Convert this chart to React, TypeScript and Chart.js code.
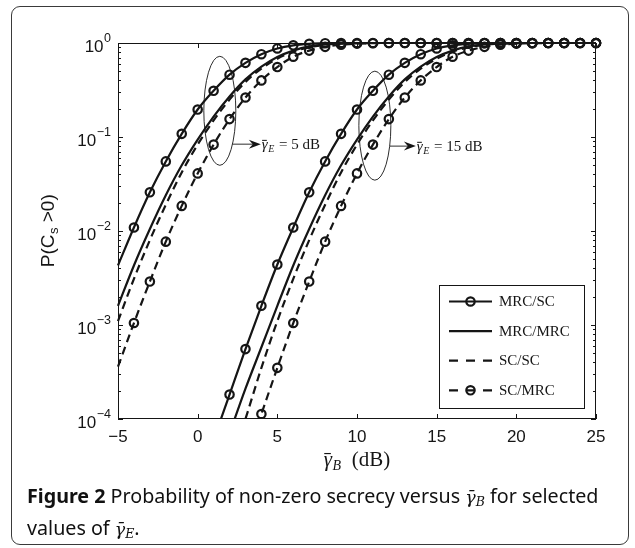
import React, { useEffect, useRef } from "react";
import { Chart, registerables } from "chart.js";

Chart.register(...registerables);

// ---------------- data ----------------
const X_DB = [-5, -4, -3, -2, -1, 0, 1, 2, 3, 4, 5, 6, 7, 8, 9, 10, 11, 12, 13, 14, 15, 16, 17, 18, 19, 20, 21, 22, 23, 24, 25];
const X_TICKS = [-5, 0, 5, 10, 15, 20, 25];
const Y_TICK_EXPONENTS = [0, -1, -2, -3, -4];
const LEGEND_LABELS = ["MRC/SC", "MRC/MRC", "SC/SC", "SC/MRC"];
const ANNOTATION_LABELS = ["5 dB", "15 dB"];

// gamma_E = 5 dB
const MRC_SC_5 = [0.0043, 0.0109, 0.0258, 0.055, 0.108, 0.196, 0.31, 0.46, 0.615, 0.76, 0.875, 0.945, 0.98, 0.995, 1, 1, 1, 1, 1, 1, 1, 1, 1, 1, 1, 1, 1, 1, 1, 1, 1];
const MRC_MRC_5 = [0.0016, 0.0043, 0.0105, 0.024, 0.05, 0.094, 0.165, 0.27, 0.41, 0.56, 0.71, 0.83, 0.92, 0.965, 0.988, 0.997, 1, 1, 1, 1, 1, 1, 1, 1, 1, 1, 1, 1, 1, 1, 1];
const SC_SC_5 = [0.0011, 0.0031, 0.008, 0.019, 0.042, 0.083, 0.15, 0.25, 0.385, 0.535, 0.68, 0.81, 0.9, 0.955, 0.985, 0.995, 1, 1, 1, 1, 1, 1, 1, 1, 1, 1, 1, 1, 1, 1, 1];
const SC_MRC_5 = [0.00036, 0.00105, 0.0029, 0.0077, 0.0185, 0.041, 0.083, 0.155, 0.263, 0.4, 0.555, 0.715, 0.83, 0.91, 0.96, 0.985, 0.995, 1, 1, 1, 1, 1, 1, 1, 1, 1, 1, 1, 1, 1, 1];

// gamma_E = 15 dB
const MRC_SC_15 = [null, null, null, null, null, null, 0.00006, 0.000182, 0.000554, 0.0016, 0.0044, 0.0109, 0.0258, 0.055, 0.108, 0.196, 0.31, 0.46, 0.615, 0.76, 0.875, 0.945, 0.98, 0.995, 1, 1, 1, 1, 1, 1, 1];
const MRC_MRC_15 = [null, null, null, null, null, null, null, 0.00007, 0.00021, 0.00058, 0.0016, 0.0043, 0.0105, 0.024, 0.05, 0.094, 0.165, 0.27, 0.41, 0.56, 0.71, 0.83, 0.92, 0.965, 0.988, 0.997, 1, 1, 1, 1, 1];
const SC_SC_15 = [null, null, null, null, null, null, null, 0.00003, 0.0001, 0.00035, 0.0011, 0.0031, 0.008, 0.019, 0.042, 0.083, 0.15, 0.25, 0.385, 0.535, 0.68, 0.81, 0.9, 0.955, 0.985, 0.995, 1, 1, 1, 1, 1];
const SC_MRC_15 = [null, null, null, null, null, null, null, null, 0.000035, 0.000113, 0.00035, 0.00105, 0.0029, 0.0077, 0.0185, 0.041, 0.083, 0.155, 0.263, 0.4, 0.555, 0.715, 0.83, 0.91, 0.96, 0.985, 0.995, 1, 1, 1, 1];

// ---------------- styling ----------------
const INK = "#151515";
const SANS = '"Liberation Sans", Arial, sans-serif';
const SERIF = '"Liberation Serif", "Times New Roman", serif';
const DASH = [8, 5];
const Y_MIN = 1e-4;
const Y_MAX = 1;

type Style = { dashed: boolean; markers: boolean };
const STYLES: Style[] = [
  { dashed: false, markers: true },
  { dashed: false, markers: false },
  { dashed: true, markers: false },
  { dashed: true, markers: true },
];

const GROUPS = [
  [MRC_SC_5, MRC_MRC_5, SC_SC_5, SC_MRC_5],
  [MRC_SC_15, MRC_MRC_15, SC_SC_15, SC_MRC_15],
];

function makeDataset(label: string, values: (number | null)[], style: Style) {
  return {
    label,
    data: X_DB.map((x, i) => ({ x, y: values[i] })),
    borderColor: INK,
    borderWidth: 2.2,
    borderDash: style.dashed ? DASH : [],
    pointStyle: "circle",
    pointRadius: (c: any) => {
      const r = c.raw;
      return style.markers && r && r.y != null && r.x > X_DB[0] && r.y >= Y_MIN ? 4.2 : 0;
    },
    pointBorderWidth: 2.2,
    pointBorderColor: INK,
    pointBackgroundColor: "rgba(0,0,0,0)",
    cubicInterpolationMode: "monotone",
    fill: false,
    spanGaps: false,
    clip: { left: 8, top: 8, right: 8, bottom: 0 },
  };
}

const datasets = GROUPS.flatMap((group, g) =>
  group.map((values, k) => makeDataset(`${LEGEND_LABELS[k]} (${ANNOTATION_LABELS[g]})`, values, STYLES[k]))
);

// annotation anchors in data coordinates
const ANNOTATIONS = [
  { x: 1.39, y: 0.19, arrowY: 0.0839 },
  { x: 11.12, y: 0.132, arrowY: 0.08 },
];

function drawGammaBar(ctx: CanvasRenderingContext2D, x: number, base: number, size: number, sub: string, subSize: number) {
  ctx.textAlign = "left";
  ctx.textBaseline = "alphabetic";
  ctx.font = `italic ${size}px ${SERIF}`;
  ctx.fillText("γ", x, base);
  const gw = ctx.measureText("γ").width;
  ctx.fillRect(x + gw * 0.05, base - size * 0.62, gw * 0.8, Math.max(1, size * 0.055));
  ctx.font = `italic ${subSize}px ${SERIF}`;
  ctx.fillText(sub, x + gw + 0.5, base + size * 0.2);
  return x + gw + 0.5 + ctx.measureText(sub).width;
}

const framePlugin = {
  id: "frame",
  afterDatasetsDraw(chart: any) {
    const { ctx, chartArea: a, scales } = chart;
    const xs = scales.x;
    const ys = scales.y;
    ctx.save();
    ctx.strokeStyle = INK;
    ctx.fillStyle = INK;
    ctx.lineWidth = 1;
    ctx.setLineDash([]);

    // box
    ctx.strokeRect(a.left + 0.5, a.top + 0.5, a.right - a.left - 1, a.bottom - a.top - 1);

    // x ticks (inward, bottom & top)
    ctx.beginPath();
    for (const t of X_TICKS) {
      const px = Math.round(xs.getPixelForValue(t)) + 0.5;
      ctx.moveTo(px, a.bottom);
      ctx.lineTo(px, a.bottom - 5);
      ctx.moveTo(px, a.top);
      ctx.lineTo(px, a.top + 5);
    }
    // y ticks (major + minor, left & right)
    for (const e of Y_TICK_EXPONENTS) {
      const py = Math.round(ys.getPixelForValue(Math.pow(10, e))) + 0.5;
      ctx.moveTo(a.left, py);
      ctx.lineTo(a.left + 5, py);
      ctx.moveTo(a.right, py);
      ctx.lineTo(a.right - 5, py);
      if (e < 0) {
        for (let m = 2; m <= 9; m++) {
          const pm = Math.round(ys.getPixelForValue(m * Math.pow(10, e))) + 0.5;
          ctx.moveTo(a.left, pm);
          ctx.lineTo(a.left + 3, pm);
          ctx.moveTo(a.right, pm);
          ctx.lineTo(a.right - 3, pm);
        }
      }
    }
    ctx.stroke();

    // annotations: ellipses + arrows + labels
    ANNOTATIONS.forEach((an, i) => {
      const cx = xs.getPixelForValue(an.x);
      const cy = ys.getPixelForValue(an.y);
      const ay = ys.getPixelForValue(an.arrowY);
      const rx = 16, ry = 54.5;
      ctx.lineWidth = 0.9;
      ctx.beginPath();
      ctx.ellipse(cx, cy, rx, ry, 0, 0, Math.PI * 2);
      ctx.stroke();
      const dy = (ay - cy) / ry;
      const x0 = cx + rx * Math.sqrt(Math.max(0, 1 - dy * dy));
      const tip = cx + 41;
      ctx.beginPath();
      ctx.moveTo(x0, ay);
      ctx.lineTo(tip - 6, ay);
      ctx.stroke();
      ctx.beginPath();
      ctx.moveTo(tip, ay);
      ctx.lineTo(tip - 12, ay - 4.5);
      ctx.lineTo(tip - 8, ay);
      ctx.lineTo(tip - 12, ay + 4.5);
      ctx.closePath();
      ctx.fill();
      const base = ay + 5;
      const after = drawGammaBar(ctx, tip + 1, base, 15, "E", 10);
      ctx.font = `15px ${SERIF}`;
      ctx.fillText(" = " + ANNOTATION_LABELS[i], after + 1, base);
    });

    // legend
    const lx = a.right - 157;
    const ly = a.top + 242;
    const lw = 145;
    const lh = 123;
    ctx.fillStyle = "#ffffff";
    ctx.fillRect(lx, ly, lw, lh);
    ctx.lineWidth = 1;
    ctx.strokeStyle = INK;
    ctx.strokeRect(lx + 0.5, ly + 0.5, lw, lh);
    ctx.fillStyle = INK;
    LEGEND_LABELS.forEach((lab, k) => {
      const y = ly + 16.5 + k * 29.6;
      const s = STYLES[k];
      ctx.lineWidth = 2.2;
      ctx.setLineDash(s.dashed ? [9, 8] : []);
      ctx.beginPath();
      ctx.moveTo(lx + 10, y);
      ctx.lineTo(lx + 53, y);
      ctx.stroke();
      ctx.setLineDash([]);
      if (s.markers) {
        ctx.beginPath();
        ctx.arc(lx + 31.5, y, 4.2, 0, Math.PI * 2);
        ctx.stroke();
      }
      ctx.font = `15px ${SERIF}`;
      ctx.textAlign = "left";
      ctx.textBaseline = "middle";
      ctx.fillText(lab, lx + 60, y + 0.5);
    });
    ctx.restore();
  },
  afterDraw(chart: any) {
    const { ctx, chartArea: a, scales } = chart;
    const xs = scales.x;
    const ys = scales.y;
    ctx.save();
    ctx.fillStyle = INK;

    // x tick labels
    ctx.font = `17px ${SANS}`;
    ctx.textAlign = "center";
    ctx.textBaseline = "alphabetic";
    for (const t of X_TICKS) {
      const label = t < 0 ? "\u2212" + Math.abs(t) : String(t);
      ctx.fillText(label, xs.getPixelForValue(t), a.bottom + 22.5);
    }

    // y tick labels 10^e
    for (const e of Y_TICK_EXPONENTS) {
      const py = ys.getPixelForValue(Math.pow(10, e));
      const sup = e < 0 ? "\u2212" + Math.abs(e) : String(e);
      const right = a.left - 7;
      ctx.textAlign = "right";
      ctx.font = `12.5px ${SANS}`;
      ctx.fillText(sup, right, py - 1.5);
      const sw = ctx.measureText(sup).width;
      ctx.font = `17px ${SANS}`;
      ctx.fillText("10", right - sw - 0.5, py + 8.5);
    }

    // x axis title
    {
      const cx = (a.left + a.right) / 2;
      const base = a.bottom + 47;
      ctx.font = `italic 21px ${SERIF}`;
      const gw = ctx.measureText("γ").width;
      ctx.font = `italic 14px ${SERIF}`;
      const bw = ctx.measureText("B").width;
      ctx.font = `21px ${SERIF}`;
      const rest = "  (dB)";
      const rw = ctx.measureText(rest).width;
      const total = gw + 0.5 + bw + rw;
      const after = drawGammaBar(ctx, cx - total / 2, base, 21, "B", 14);
      ctx.font = `21px ${SERIF}`;
      ctx.textAlign = "left";
      ctx.fillText(rest, after, base);
    }

    // y axis title
    {
      const cy = (a.top + a.bottom) / 2;
      ctx.translate(53.5, cy);
      ctx.rotate(-Math.PI / 2);
      ctx.textAlign = "left";
      ctx.textBaseline = "alphabetic";
      ctx.font = `19px ${SANS}`;
      const p1 = "P(C";
      const p3 = " >0)";
      const w1 = ctx.measureText(p1).width;
      const w3 = ctx.measureText(p3).width;
      ctx.font = `13px ${SANS}`;
      const w2 = ctx.measureText("s").width;
      const start = -(w1 + w2 + w3) / 2;
      ctx.font = `19px ${SANS}`;
      ctx.fillText(p1, start, 0);
      ctx.font = `13px ${SANS}`;
      ctx.fillText("s", start + w1 + 0.5, 4.5);
      ctx.font = `19px ${SANS}`;
      ctx.fillText(p3, start + w1 + w2 + 0.5, 0);
    }
    ctx.restore();
  },
};

export default function App() {
  const ref = useRef<HTMLCanvasElement>(null);
  useEffect(() => {
    const canvas = ref.current!;
    const chart = new Chart(canvas, {
      type: "line",
      data: { datasets: datasets as any },
      options: {
        responsive: false,
        animation: false,
        devicePixelRatio: 1,
        events: [],
        layout: { padding: { left: 118, right: 39, top: 43, bottom: 129 } },
        scales: {
          x: { type: "linear", min: X_TICKS[0], max: X_TICKS[X_TICKS.length - 1], display: false },
          y: { type: "logarithmic", min: Y_MIN, max: Y_MAX, display: false },
        },
        plugins: { legend: { display: false }, tooltip: { enabled: false } },
      } as any,
      plugins: [framePlugin],
    });
    return () => chart.destroy();
  }, []);

  return (
    <div style={{ position: "absolute", left: 0, top: 0, width: 635, height: 548, background: "#fff" }}>
      <div
        style={{
          position: "absolute",
          left: 11,
          top: 6,
          width: 618,
          height: 539,
          border: "1px solid #3a3a3a",
          borderRadius: 9,
          boxSizing: "border-box",
        }}
      />
      <canvas ref={ref} width={635} height={548} style={{ position: "absolute", left: 0, top: 0, width: 635, height: 548 }} />
      <div
        style={{
          position: "absolute",
          left: 27,
          top: 483,
          whiteSpace: "nowrap",
          font: '19.7px "Noto Sans", sans-serif',
          lineHeight: "26px",
          color: "#111",
        }}
      >
        <b>Figure 2</b> Probability of non-zero secrecy versus{" "}
        <i style={{ fontFamily: '"DejaVu Serif", serif', fontSize: 17.5 }}>
          γ̄<sub style={{ fontSize: 12.5, verticalAlign: "-3px" }}>B</sub>
        </i>{" "}
        for selected
        <br />
        values of{" "}
        <i style={{ fontFamily: '"DejaVu Serif", serif', fontSize: 17.5 }}>
          γ̄<sub style={{ fontSize: 12.5, verticalAlign: "-3px" }}>E</sub>
        </i>
        .
      </div>
    </div>
  );
}
